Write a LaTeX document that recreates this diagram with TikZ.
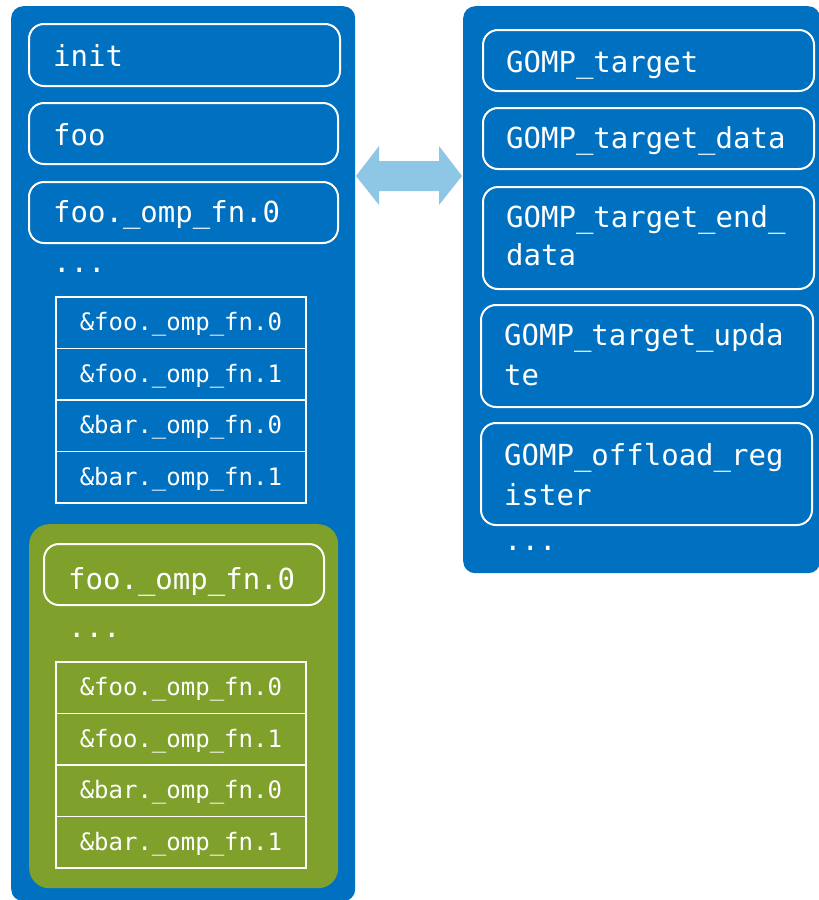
\documentclass[tikz,border=0pt]{standalone}
\usepackage{fontspec}
\newfontfamily\codefont{DejaVu Sans Mono}
\definecolor{panelblue}{HTML}{0070C0}
\definecolor{panelgreen}{HTML}{7FA02A}
\definecolor{arrowblue}{HTML}{8EC6E6}
\begin{document}
\begin{tikzpicture}[x=1pt,y=-1pt,
  panel/.style={fill=panelblue, draw=none, rounded corners=12pt, inner sep=0pt, anchor=north west},
  subpanel/.style={fill=panelgreen, draw=none, rounded corners=20pt, inner sep=0pt, anchor=north west},
  itembox/.style={draw=white, line width=2pt, rounded corners=15pt, inner sep=0pt, anchor=north west},
  cellbox/.style={draw=white, line width=1.8pt, inner sep=0pt, anchor=north west,
    minimum width=250pt, minimum height=51.5pt, text=white,
    font=\codefont\fontsize{24}{28}\selectfont, text height=16pt, text depth=0pt},
  lbl/.style={text=white, inner sep=0pt, anchor=base west,
    font=\codefont\fontsize{29}{38}\selectfont},
  link/.style={fill=arrowblue, draw=none}
]
\useasboundingbox (0,0) rectangle (819,900);

% host side
\node[panel, minimum width=344pt, minimum height=895pt] (host) at (11,6) {};
\node[itembox, minimum width=311pt, minimum height=62pt] (init) at (28,23) {};
\node[lbl] (initT) at (53,66) {init};
\node[itembox, minimum width=309pt, minimum height=61pt] (foo) at (28,102) {};
\node[lbl] (fooT) at (53,145) {foo};
\node[itembox, minimum width=309pt, minimum height=61pt] (fn) at (28,181) {};
\node[lbl] (fnT) at (53,222) {foo.\_omp\_fn.0};
\node[lbl] (dotsA) at (53,272) {...};
\node[cellbox] (tA1) at (55,296)   {\&foo.\_omp\_fn.0};
\node[cellbox] (tA2) at (55,347.5) {\&foo.\_omp\_fn.1};
\node[cellbox] (tA3) at (55,399)   {\&bar.\_omp\_fn.0};
\node[cellbox] (tA4) at (55,450.5) {\&bar.\_omp\_fn.1};

% offload image
\node[subpanel, minimum width=309pt, minimum height=364pt] (dev) at (29,524) {};
\node[itembox, minimum width=280pt, minimum height=61pt] (devfn) at (43,543) {};
\node[lbl] (devfnT) at (68,589) {foo.\_omp\_fn.0};
\node[lbl] (dotsB) at (68,637) {...};
\node[cellbox] (tB1) at (55,661)   {\&foo.\_omp\_fn.0};
\node[cellbox] (tB2) at (55,712.5) {\&foo.\_omp\_fn.1};
\node[cellbox] (tB3) at (55,764)   {\&bar.\_omp\_fn.0};
\node[cellbox] (tB4) at (55,815.5) {\&bar.\_omp\_fn.1};

% libgomp side
\node[panel, minimum width=357pt, minimum height=567pt] (lib) at (463,6) {};
\node[itembox, minimum width=331pt, minimum height=61pt] (g1) at (482,29) {};
\node[lbl] (g1T) at (506,72) {GOMP\_target};
\node[itembox, minimum width=331pt, minimum height=61pt] (g2) at (482,107) {};
\node[lbl] (g2T) at (506,148) {GOMP\_target\_data};
\node[itembox, minimum width=331pt, minimum height=102pt] (g3) at (482,186) {};
\node[lbl] (g3T) at (506,227) {GOMP\_target\_end\_};
\node[lbl] (g3U) at (506,265) {data};
\node[itembox, minimum width=332pt, minimum height=102pt] (g4) at (480,304) {};
\node[lbl] (g4T) at (504,345) {GOMP\_target\_upda};
\node[lbl] (g4U) at (504,385) {te};
\node[itembox, minimum width=331pt, minimum height=102pt] (g5) at (480,422) {};
\node[lbl] (g5T) at (504,465) {GOMP\_offload\_reg};
\node[lbl] (g5U) at (504,505) {ister};
\node[lbl] (dotsC) at (504,550) {...};

% two-way arrow between the panels
\fill[link] (356,176) -- (379,146) -- (379,161) -- (439,161) -- (439,146)
  -- (462,176) -- (439,205) -- (439,191) -- (379,191) -- (379,205) -- cycle;
\end{tikzpicture}
\end{document}
